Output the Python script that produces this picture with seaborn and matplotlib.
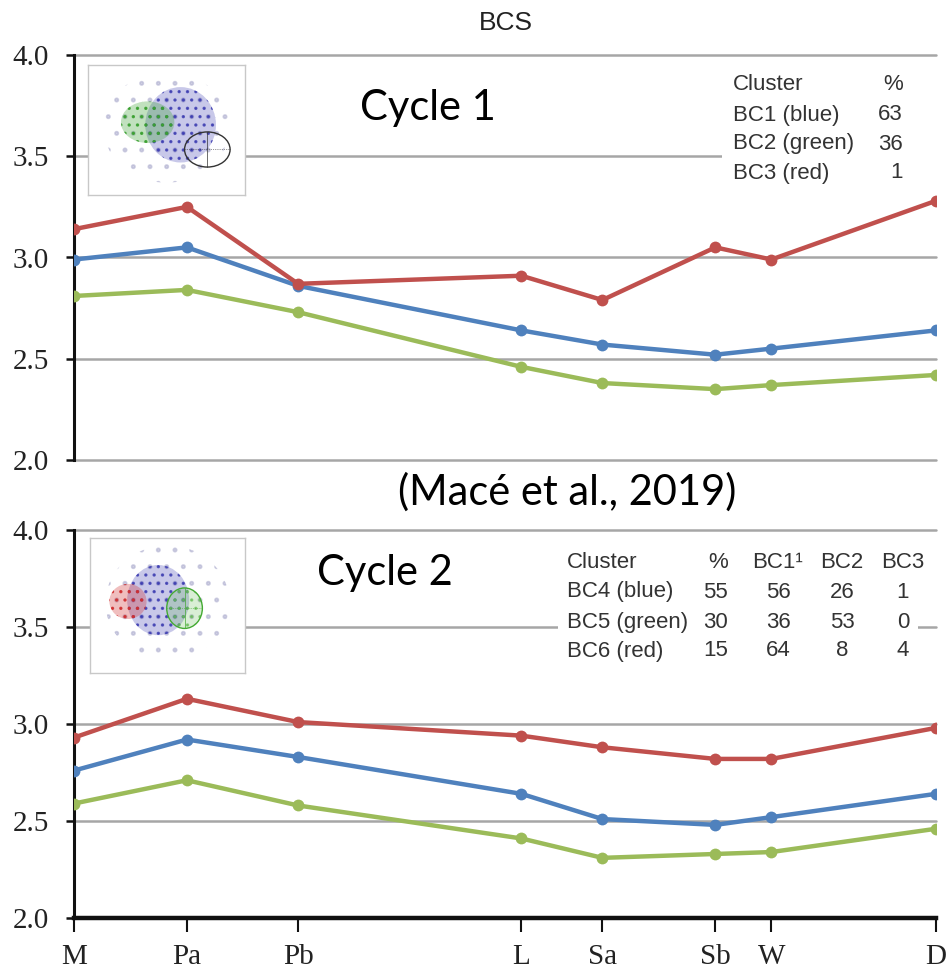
import numpy as np
import pandas as pd
import matplotlib
matplotlib.use("Agg")
import matplotlib.pyplot as plt
from matplotlib.patches import Ellipse, Rectangle
import seaborn as sns

# ---------------- data ----------------
stages = ["M", "Pa", "Pb", "L", "Sa", "Sb", "W", "D"]
stage_pos = [0, 13.1, 26.0, 51.9, 61.3, 74.4, 80.9, 100]

c1_blue = [2.99, 3.05, 2.86, 2.64, 2.57, 2.52, 2.55, 2.64]
c1_green = [2.81, 2.84, 2.73, 2.46, 2.38, 2.35, 2.37, 2.42]
c1_red = [3.14, 3.25, 2.87, 2.91, 2.79, 3.05, 2.99, 3.28]

c2_blue = [2.76, 2.92, 2.83, 2.64, 2.51, 2.48, 2.52, 2.64]
c2_green = [2.59, 2.71, 2.58, 2.41, 2.31, 2.33, 2.34, 2.46]
c2_red = [2.93, 3.13, 3.01, 2.94, 2.88, 2.82, 2.82, 2.98]

yticks = [2.0, 2.5, 3.0, 3.5, 4.0]
ytick_labels = ["2.0", "2.5", "3.0", "3.5", "4.0"]

table1_header = ["Cluster", "%"]
table1_rows = [["BC1 (blue)", "63"], ["BC2 (green)", "36"], ["BC3 (red)", "1"]]
table2_header = ["Cluster", "%", "BC1\u00b9", "BC2", "BC3"]
table2_rows = [["BC4 (blue)", "55", "56", "26", "1"],
               ["BC5 (green)", "30", "36", "53", "0"],
               ["BC6 (red)", "15", "64", "8", "4"]]

palette = {"green": "#9BBB59", "blue": "#4F81BD", "red": "#C0504D"}
hue_order = ["green", "blue", "red"]

W, H = 949, 971
sns.set_theme(style="white")
plt.rcParams["hatch.linewidth"] = 1.2
fig = plt.figure(figsize=(W / 100, H / 100), dpi=100)
fig.patch.set_facecolor("white")

def fx(px):
    return px / W

def fy(py):
    return 1 - py / H

def make_df(blue, green, red):
    rows = []
    for name, vals in (("green", green), ("blue", blue), ("red", red)):
        for s, p, v in zip(stages, stage_pos, vals):
            rows.append({"stage": s, "pos": p, "value": v, "cluster": name})
    return pd.DataFrame(rows)

serif = "Liberation Serif"
ax_left, ax_right = 74, 936
ax1 = fig.add_axes([fx(ax_left), fy(460), fx(ax_right - ax_left), (460 - 55) / H])
ax2 = fig.add_axes([fx(ax_left), fy(918), fx(ax_right - ax_left), (918 - 530) / H])

for ax, (b, g, r) in ((ax1, (c1_blue, c1_green, c1_red)), (ax2, (c2_blue, c2_green, c2_red))):
    df = make_df(b, g, r)
    sns.lineplot(data=df, x="pos", y="value", hue="cluster", hue_order=hue_order,
                 palette=palette, marker="o", markersize=8.5, markeredgewidth=0,
                 linewidth=3.2, legend=False, sort=False, ax=ax, zorder=3)
    ax.set_xlim(stage_pos[0], stage_pos[-1])
    ax.set_ylim(2.0, 4.0)
    ax.set_yticks(yticks)
    ax.set_yticklabels(ytick_labels, fontfamily=serif, fontsize=21, color="#222222")
    ax.set_xlabel("")
    ax.set_ylabel("")
    ax.set_axisbelow(True)
    ax.grid(axis="y", color="#A6A6A6", linewidth=1.8)
    ax.grid(axis="x", visible=False)
    for gl in ax.get_ygridlines():
        gl.set_clip_on(False)
    for sp in ("top", "right"):
        ax.spines[sp].set_visible(False)
    ax.spines["left"].set_color("#111111")
    ax.spines["left"].set_linewidth(2.2)
    ax.tick_params(axis="y", direction="out", length=6, width=1.8, color="#111111", pad=12, left=True)
    ax.set_facecolor("none")

ax1.spines["bottom"].set_visible(False)
ax1.set_xticks([])
ax2.spines["bottom"].set_color("#111111")
ax2.spines["bottom"].set_linewidth(3.2)
ax2.spines["bottom"].set_zorder(4)
ax2.set_xticks(stage_pos)
ax2.set_xticklabels(stages, fontfamily=serif, fontsize=21, color="#222222")
ax2.tick_params(axis="x", direction="out", length=10, width=1.5, color="#111111", pad=9, bottom=True)

# white backgrounds behind the tables (interrupt gridlines)
fig.add_artist(Rectangle((fx(722), fy(192)), fx(220), (192 - 68) / H, transform=fig.transFigure,
                         facecolor="white", edgecolor="none", zorder=1))
fig.add_artist(Rectangle((fx(558), fy(668)), fx(360), (668 - 545) / H, transform=fig.transFigure,
                         facecolor="white", edgecolor="none", zorder=1))

# ---------------- insets ----------------
def inset(l, t, r, b, blobs, outline):
    ia = fig.add_axes([fx(l), fy(b), fx(r - l), (b - t) / H])
    ia.set_xlim(0, 1)
    ia.set_ylim(0, 1)
    ia.set_xticks([])
    ia.set_yticks([])
    ia.set_facecolor("white")
    for sp in ia.spines.values():
        sp.set_color("#C8C8C8")
        sp.set_linewidth(1.0)
    ia.add_patch(Ellipse((0.5, 0.52), 0.8, 0.85, facecolor="none", edgecolor="#B0B0D0",
                         hatch=".", linewidth=0, alpha=0.6))
    for (cx, cy, w, h, col, a) in blobs:
        ia.add_patch(Ellipse((cx, cy), w, h, facecolor=col, alpha=a * 0.35, edgecolor="none"))
        ia.add_patch(Ellipse((cx, cy), w, h, facecolor="none", edgecolor=col, hatch="..",
                             linewidth=0, alpha=a))
    cx, cy, w, h, col = outline
    ia.add_patch(Ellipse((cx, cy), w, h, facecolor="none", edgecolor=col, linewidth=1.0))
    ia.plot([cx, cx], [cy - h / 2, cy + h / 2], color=col, lw=0.5)
    ia.plot([cx - w / 2, cx + w / 2], [cy, cy], color=col, lw=0.5, ls=":")
    return ia

inset(88, 65, 245, 195,
      [(0.59, 0.54, 0.45, 0.58, "#3A3AB0", 0.8), (0.38, 0.56, 0.34, 0.32, "#3AA030", 0.9)],
      (0.76, 0.35, 0.29, 0.27, "#333333"))
inset(90, 538, 245, 673,
      [(0.44, 0.54, 0.40, 0.52, "#3A3AB0", 0.8), (0.245, 0.53, 0.24, 0.26, "#D03030", 0.9),
       (0.61, 0.48, 0.23, 0.30, "#66BB55", 0.7)],
      (0.61, 0.48, 0.23, 0.30, "#44AA33"))

# ---------------- texts ----------------
fig.text(fx(506), fy(23), "BCS", fontfamily="Liberation Sans", fontsize=19, color="#222222",
         ha="center", va="center")
fig.text(fx(428), fy(108), "Cycle 1", fontfamily="Lato", fontsize=30, color="black",
         ha="center", va="center", zorder=5)
fig.text(fx(567), fy(492), "(Mac\u00e9 et al., 2019)", fontfamily="Lato", fontsize=30, color="black",
         ha="center", va="center", zorder=5)
fig.text(fx(385), fy(573), "Cycle 2", fontfamily="Lato", fontsize=30, color="black",
         ha="center", va="center", zorder=5)

tcol = "#333333"
tfont = dict(fontfamily="Liberation Sans", fontsize=16, color=tcol, va="center", zorder=5)
row_y1 = [85, 115, 144, 173]
for i, row in enumerate([table1_header] + table1_rows):
    fig.text(fx(733), fy(row_y1[i]), row[0], ha="left", **tfont)
    fig.text(fx(903), fy(row_y1[i]), row[1], ha="right", **tfont)

row_y2 = [562, 592, 622, 651]
col_x2 = [(567, "left"), (728, "right"), (778, "center"), (842, "center"), (903, "center")]
for i, row in enumerate([table2_header] + table2_rows):
    for j, txt in enumerate(row):
        x, ha = col_x2[j]
        fig.text(fx(x), fy(row_y2[i]), txt, ha=ha, **tfont)

fig.savefig("out.png", dpi=100, facecolor="white")
